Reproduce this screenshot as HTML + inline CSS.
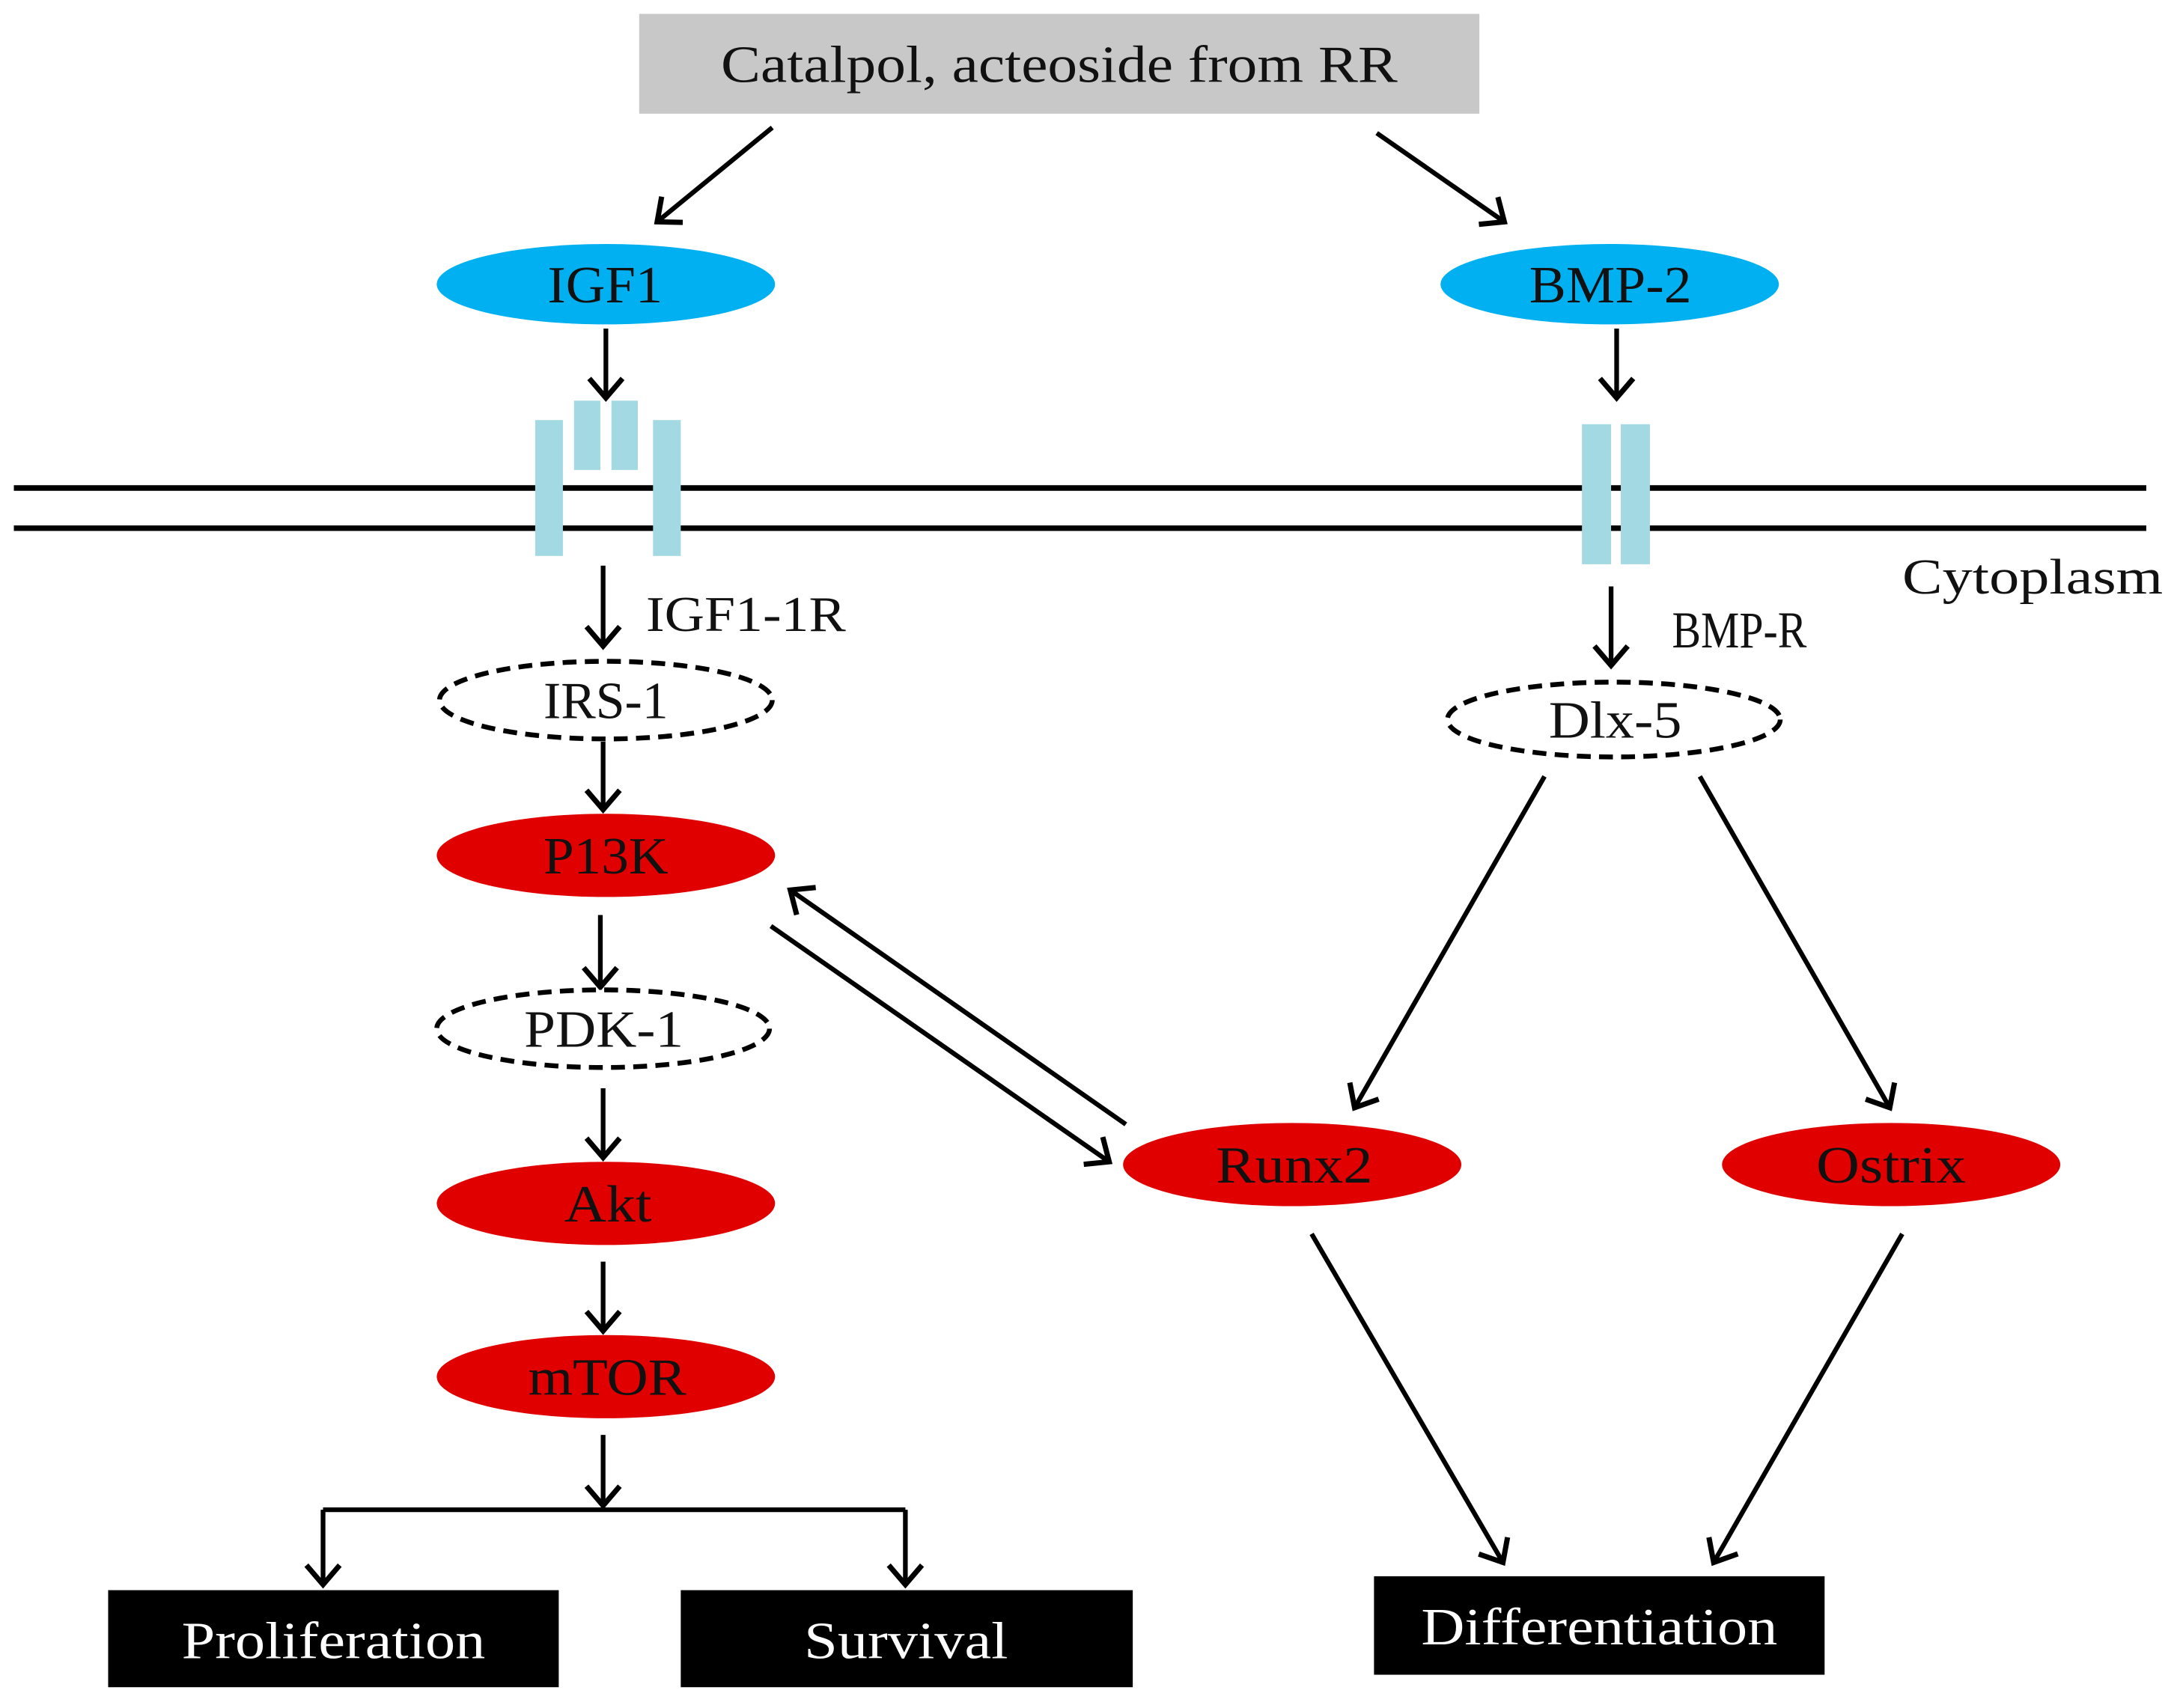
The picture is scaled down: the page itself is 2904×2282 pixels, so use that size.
<!DOCTYPE html>
<html><head><meta charset="utf-8"><style>html,body{margin:0;padding:0;background:#fff}svg{display:block}</style></head>
<body>
<svg width="2904" height="2282" viewBox="0 0 1568 1232" preserveAspectRatio="none" xmlns="http://www.w3.org/2000/svg" font-family="Liberation Serif, serif">
<defs>
<marker id="a" markerWidth="12" markerHeight="12" refX="10" refY="6" orient="auto" markerUnits="userSpaceOnUse" viewBox="0 0 12 12" overflow="visible">
<polyline points="-4,-6 10,6 -4,18" fill="none" stroke="#000" stroke-width="3.8"/>
</marker>
</defs>
<rect x="461" y="10" width="606" height="72" fill="#c8c8c8"/>
<text x="520" y="59" font-size="38" textLength="488" lengthAdjust="spacingAndGlyphs" fill="#111">Catalpol, acteoside from RR</text>

<g stroke="#000" stroke-width="3.4" fill="none" marker-end="url(#a)">
<line x1="557" y1="92" x2="474" y2="160"/>
<line x1="993" y1="96" x2="1085" y2="160"/>
<line x1="437" y1="237" x2="437" y2="287"/>
<line x1="1166" y1="237" x2="1166" y2="287"/>
<line x1="435" y1="408" x2="435" y2="466"/>
<line x1="1162" y1="423" x2="1162" y2="480"/>
<line x1="435" y1="535" x2="435" y2="584"/>
<line x1="433" y1="660" x2="433" y2="712"/>
<line x1="435" y1="785" x2="435" y2="835"/>
<line x1="435" y1="910" x2="435" y2="960"/>
<line x1="435" y1="1035" x2="435" y2="1086"/>
<line x1="233" y1="1089" x2="233" y2="1143"/>
<line x1="653" y1="1089" x2="653" y2="1143"/>
<line x1="1114" y1="560" x2="977" y2="799"/>
<line x1="1226" y1="560" x2="1363" y2="799"/>
<line x1="812" y1="811" x2="570" y2="642"/>
<line x1="556" y1="668" x2="800" y2="838"/>
<line x1="946" y1="890" x2="1084" y2="1127"/>
<line x1="1372" y1="890" x2="1236" y2="1127"/>
</g>
<line x1="233" y1="1089" x2="653" y2="1089" stroke="#000" stroke-width="3.4"/>

<line x1="10" y1="352" x2="1548" y2="352" stroke="#000" stroke-width="4"/>
<line x1="10" y1="381" x2="1548" y2="381" stroke="#000" stroke-width="4"/>
<g fill="#a3d9e3">
<rect x="386" y="303" width="20" height="98"/>
<rect x="471" y="303" width="20" height="98"/>
<rect x="414" y="289" width="19" height="50"/>
<rect x="441" y="289" width="19" height="50"/>
<rect x="1141" y="306" width="21" height="101"/>
<rect x="1169" y="306" width="21" height="101"/>
</g>
<g font-size="36" fill="#111">
<text x="1372" y="428" textLength="188" lengthAdjust="spacingAndGlyphs">Cytoplasm</text>
<text x="466" y="455" textLength="144" lengthAdjust="spacingAndGlyphs">IGF1-1R</text>
<text x="1206" y="467" font-size="37" textLength="97" lengthAdjust="spacingAndGlyphs">BMP-R</text>
</g>

<g fill="#00b0f0">
<ellipse cx="437" cy="205" rx="122" ry="29"/>
<ellipse cx="1161" cy="205" rx="122" ry="29"/>
</g>
<g fill="#e00000">
<ellipse cx="437" cy="617" rx="122" ry="30"/>
<ellipse cx="437" cy="868" rx="122" ry="30"/>
<ellipse cx="437" cy="993" rx="122" ry="30"/>
<ellipse cx="932" cy="840" rx="122" ry="30"/>
<ellipse cx="1364" cy="840" rx="122" ry="30"/>
</g>
<g fill="#fff" stroke="#000" stroke-width="3.5" stroke-dasharray="10,6">
<ellipse cx="437" cy="505" rx="120" ry="28"/>
<ellipse cx="435" cy="742" rx="120" ry="28"/>
<ellipse cx="1164" cy="519" rx="120" ry="27"/>
</g>
<g font-size="38" fill="#111">
<text x="395" y="218" textLength="83" lengthAdjust="spacingAndGlyphs">IGF1</text>
<text x="1103" y="218" textLength="117" lengthAdjust="spacingAndGlyphs">BMP-2</text>
<text x="392" y="518" textLength="90" lengthAdjust="spacingAndGlyphs">IRS-1</text>
<text x="392" y="630" textLength="90" lengthAdjust="spacingAndGlyphs">P13K</text>
<text x="378" y="755" textLength="115" lengthAdjust="spacingAndGlyphs">PDK-1</text>
<text x="407" y="881" textLength="63" lengthAdjust="spacingAndGlyphs">Akt</text>
<text x="381" y="1006" textLength="114" lengthAdjust="spacingAndGlyphs">mTOR</text>
<text x="1117" y="532" textLength="96" lengthAdjust="spacingAndGlyphs">Dlx-5</text>
<text x="877" y="853" textLength="113" lengthAdjust="spacingAndGlyphs">Runx2</text>
<text x="1310" y="853" textLength="108" lengthAdjust="spacingAndGlyphs">Ostrix</text>
</g>
<rect x="78" y="1147" width="325" height="70" fill="#000"/>
<rect x="491" y="1147" width="326" height="70" fill="#000"/>
<rect x="991" y="1137" width="325" height="71" fill="#000"/>
<g font-size="38" fill="#fff">
<text x="131" y="1196" textLength="219" lengthAdjust="spacingAndGlyphs">Proliferation</text>
<text x="580" y="1196" textLength="147" lengthAdjust="spacingAndGlyphs">Survival</text>
<text x="1025" y="1186" textLength="257" lengthAdjust="spacingAndGlyphs">Differentiation</text>
</g>
</svg>
</body></html>
